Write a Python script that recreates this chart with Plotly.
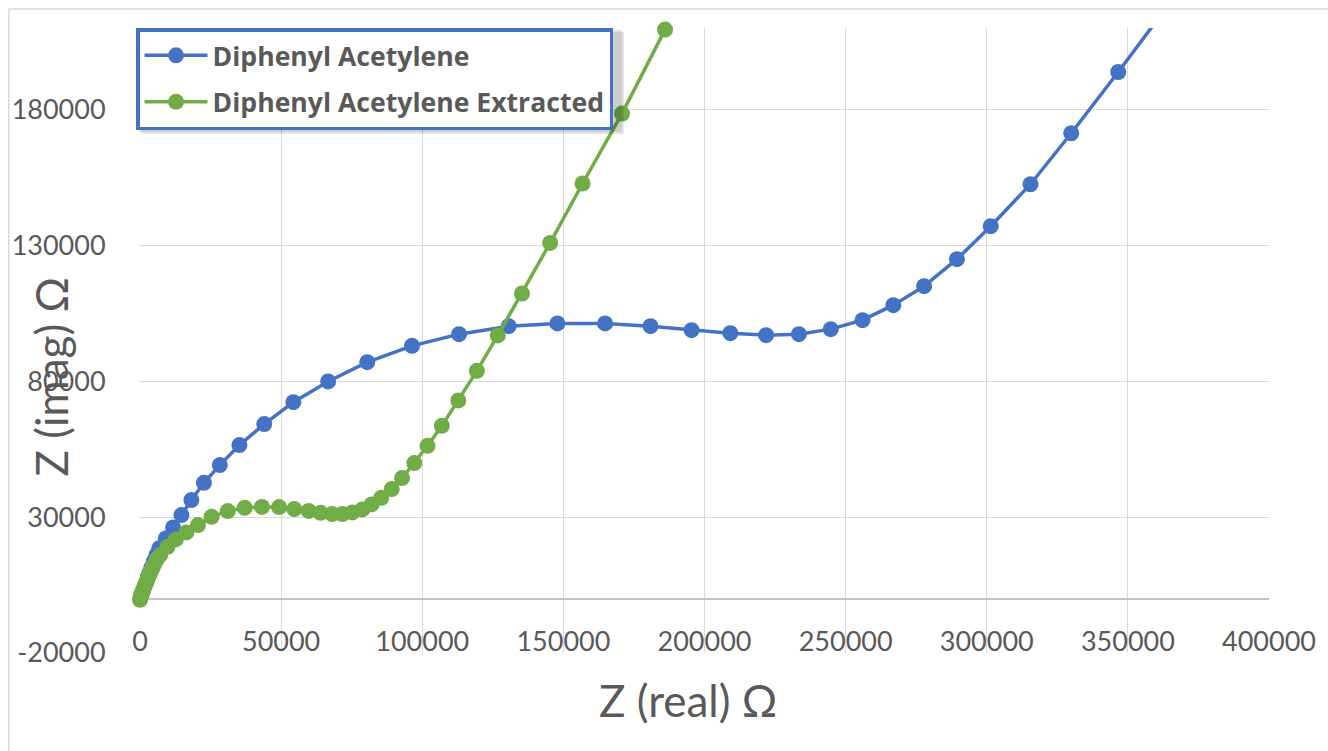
import plotly.graph_objects as go

# Diphenyl Acetylene (blue)
blue_x = [0, 150, 350, 600, 900, 1250, 1650, 2100, 2650, 3300, 4050, 4900, 5800,
          6796, 9155, 11725, 14683, 18204, 22641, 28275, 35211, 44014, 54331, 66655,
          80528, 96373, 113028, 130634, 147887, 164789, 180880, 195423, 209155,
          221831, 233451, 244718, 255986, 266901, 277817, 289437, 301408, 315493,
          329930, 346585, 364800]
blue_y = [0, 450, 1050, 1750, 2650, 3650, 4800, 6100, 7600, 9400, 11400, 13600, 16000,
          18503, 22181, 26228, 30752, 36270, 42634, 49145, 56502, 64227, 72320, 79934,
          87034, 93030, 97333, 100276, 101269, 101269, 100276, 98805, 97701,
          96965, 97333, 99172, 102483, 108000, 114990, 124922, 137061, 152511,
          171271, 193820, 219100]

# Diphenyl Acetylene Extracted (green)
green_x = [0, 150, 350, 600, 900, 1250, 1650, 2100, 2600, 3150, 3750, 4400, 5100, 5900,
           7148, 9754, 12676, 16444, 20528, 25352, 31092, 37077, 43204, 49296, 54648,
           59754, 63979, 68063, 71725, 75246, 78768, 82042, 85458, 89190, 92852,
           97183, 101866, 106937, 112782, 119366, 126761, 135317, 145317, 156796,
           170775, 186021]
green_y = [-400, 450, 1050, 1800, 2650, 3600, 4650, 5800, 7050, 8400, 9800, 11300, 12800, 14400,
           16038, 19091, 21814, 24389, 27074, 30127, 32224, 33438, 33770, 33695, 32960,
           32297, 31598, 31120, 31120, 31745, 32849, 34688, 37116, 40316, 44363,
           49881, 56244, 63601, 72945, 83833, 96855, 112305, 130918, 152768,
           178518, 209417]

x_ticks = [0, 50000, 100000, 150000, 200000, 250000, 300000, 350000, 400000]
y_ticks = [-20000, 30000, 80000, 130000, 180000]

names = ["Diphenyl Acetylene", "Diphenyl Acetylene Extracted"]
colors = ["#4472C4", "#70AD47"]

FONT = "Lato"
GRAY = "#595959"

fig = go.Figure()
fig.add_trace(go.Scatter(
    x=blue_x, y=blue_y, name=names[0], mode="lines+markers",
    line=dict(color=colors[0], width=3.5), marker=dict(color=colors[0], size=16),
    legendgroup="a", cliponaxis=True))
fig.add_trace(go.Scatter(
    x=green_x, y=green_y, name=names[1], mode="lines+markers",
    line=dict(color=colors[1], width=3.5), marker=dict(color=colors[1], size=16),
    legendgroup="b", cliponaxis=False))

W, H = 1328, 751
L, R, T, B = 139, 53, 28, 98
pw, ph = W - L - R, H - T - B

def px(x):
    return (x - L) / pw

def py(y):
    return (H - B - y) / ph

ymin, ymax = -20000, 210000

fig.update_layout(
    width=W, height=H,
    margin=dict(l=L, r=R, t=T, b=B, pad=0),
    paper_bgcolor="white", plot_bgcolor="white",
    font=dict(family=FONT, color=GRAY),
    showlegend=True,
    legend=dict(
        x=px(135), y=1.0, xanchor="left", yanchor="top",
        bgcolor="white", bordercolor="#4472C4", borderwidth=3.5,
        font=dict(family="Open Sans", size=26.6, color=GRAY, weight="bold"),
        traceorder="grouped", tracegroupgap=9, itemwidth=63,
    ),
    xaxis=dict(
        range=[0, 400000], tickvals=x_ticks, ticktext=[str(v) for v in x_ticks],
        showgrid=True, gridcolor="#D9D9D9", gridwidth=1.3,
        zeroline=False, showline=False,
        anchor="free", position=(0 - ymin) / (ymax - ymin),
        ticks="outside", ticklen=19, tickcolor="rgba(0,0,0,0)",
        tickfont=dict(family=FONT, size=27, color=GRAY),
    ),
    yaxis=dict(
        range=[ymin, ymax], tickvals=y_ticks, ticktext=[str(v) for v in y_ticks],
        showgrid=True, gridcolor="#D9D9D9", gridwidth=1.3,
        zeroline=True, zerolinecolor="#C4C4C4", zerolinewidth=1.6,
        showline=False,
        ticks="outside", ticklen=28, tickcolor="rgba(0,0,0,0)",
        tickfont=dict(family=FONT, size=27, color=GRAY),
    ),
    annotations=[
        dict(text="Z (real) Ω", xref="paper", yref="paper", x=px(690), y=py(700),
             xanchor="center", yanchor="middle", showarrow=False,
             font=dict(family=FONT, size=44, color=GRAY)),
        dict(text="Z (imag) Ω", xref="paper", yref="paper", x=px(49), y=py(377),
             xanchor="center", yanchor="middle", showarrow=False, textangle=-90,
             font=dict(family=FONT, size=44, color=GRAY)),
    ],
    shapes=[
        # chart area border
        dict(type="line", xref="paper", yref="paper", x0=px(7), x1=px(7), y0=py(9), y1=py(760),
             line=dict(color="#D9D9D9", width=1.5), layer="below"),
        dict(type="line", xref="paper", yref="paper", x0=px(7), x1=px(1340), y0=py(9), y1=py(9),
             line=dict(color="#D9D9D9", width=1.5), layer="below"),
        # legend shadow
        dict(type="rect", xref="paper", yref="paper", x0=px(140), x1=px(626), y0=py(32), y1=py(134),
             fillcolor="rgba(0,0,0,0.10)", line=dict(width=0), layer="above"),
        dict(type="rect", xref="paper", yref="paper", x0=px(138), x1=px(624), y0=py(30), y1=py(132),
             fillcolor="rgba(0,0,0,0.10)", line=dict(width=0), layer="above"),
    ],
)

fig.write_html("out.html")
